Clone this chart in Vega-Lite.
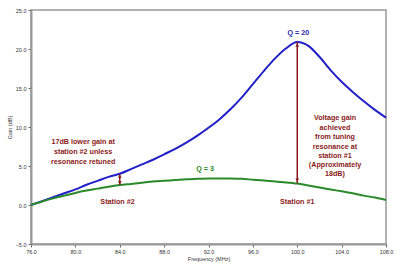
{
  "$schema": "https://vega.github.io/schema/vega-lite/v6.json",
  "width": 355,
  "height": 234,
  "autosize": "none",
  "padding": {"left": 31, "top": 10, "right": 14, "bottom": 25},
  "background": "white",
  "config": {
    "font": "Liberation Sans",
    "view": {"stroke": "#999999", "strokeWidth": 1.5},
    "axis": {
      "grid": false,
      "domainColor": "#999999",
      "domainWidth": 2,
      "tickColor": "#666666",
      "tickSize": 3,
      "labelFontSize": 5.5,
      "labelColor": "#333333",
      "labelFlush": false,
      "labelOverlap": false,
      "titleFontSize": 5.5,
      "titleColor": "#333333",
      "titleFontWeight": "normal"
    },
    "axisY": {"labelOverlap": false},
    "axisQuantitative": {"labelOverlap": false}
  },
  "datasets": {
    "curves": [
      {"f": 76, "g": 0, "s": "Q20"}, {"f": 77, "g": 0.5, "s": "Q20"}, {"f": 78, "g": 1.0, "s": "Q20"},
      {"f": 79, "g": 1.5, "s": "Q20"}, {"f": 80, "g": 2.0, "s": "Q20"}, {"f": 81, "g": 2.6, "s": "Q20"},
      {"f": 82, "g": 3.1, "s": "Q20"}, {"f": 83, "g": 3.6, "s": "Q20"}, {"f": 84, "g": 4.0, "s": "Q20"},
      {"f": 85, "g": 4.6, "s": "Q20"}, {"f": 86, "g": 5.2, "s": "Q20"}, {"f": 87, "g": 5.8, "s": "Q20"},
      {"f": 88, "g": 6.5, "s": "Q20"}, {"f": 89, "g": 7.2, "s": "Q20"}, {"f": 90, "g": 8.0, "s": "Q20"},
      {"f": 91, "g": 8.9, "s": "Q20"}, {"f": 92, "g": 9.9, "s": "Q20"}, {"f": 93, "g": 11.0, "s": "Q20"},
      {"f": 94, "g": 12.3, "s": "Q20"}, {"f": 95, "g": 13.8, "s": "Q20"}, {"f": 96, "g": 15.5, "s": "Q20"},
      {"f": 97, "g": 17.2, "s": "Q20"}, {"f": 98, "g": 18.8, "s": "Q20"}, {"f": 99, "g": 20.1, "s": "Q20"},
      {"f": 100, "g": 20.9, "s": "Q20"}, {"f": 101, "g": 20.4, "s": "Q20"}, {"f": 102, "g": 19.0, "s": "Q20"},
      {"f": 103, "g": 17.3, "s": "Q20"}, {"f": 104, "g": 15.8, "s": "Q20"}, {"f": 105, "g": 14.5, "s": "Q20"},
      {"f": 106, "g": 13.3, "s": "Q20"}, {"f": 107, "g": 12.2, "s": "Q20"}, {"f": 108, "g": 11.2, "s": "Q20"},
      {"f": 76, "g": 0, "s": "Q3"}, {"f": 77, "g": 0.45, "s": "Q3"}, {"f": 78, "g": 0.85, "s": "Q3"},
      {"f": 79, "g": 1.2, "s": "Q3"}, {"f": 80, "g": 1.55, "s": "Q3"}, {"f": 81, "g": 1.85, "s": "Q3"},
      {"f": 82, "g": 2.1, "s": "Q3"}, {"f": 83, "g": 2.35, "s": "Q3"}, {"f": 84, "g": 2.55, "s": "Q3"},
      {"f": 85, "g": 2.7, "s": "Q3"}, {"f": 86, "g": 2.85, "s": "Q3"}, {"f": 87, "g": 3.0, "s": "Q3"},
      {"f": 88, "g": 3.1, "s": "Q3"}, {"f": 89, "g": 3.2, "s": "Q3"}, {"f": 90, "g": 3.3, "s": "Q3"},
      {"f": 91, "g": 3.35, "s": "Q3"}, {"f": 92, "g": 3.4, "s": "Q3"}, {"f": 93, "g": 3.4, "s": "Q3"},
      {"f": 94, "g": 3.4, "s": "Q3"}, {"f": 95, "g": 3.35, "s": "Q3"}, {"f": 96, "g": 3.25, "s": "Q3"},
      {"f": 97, "g": 3.15, "s": "Q3"}, {"f": 98, "g": 3.0, "s": "Q3"}, {"f": 99, "g": 2.9, "s": "Q3"},
      {"f": 100, "g": 2.75, "s": "Q3"}, {"f": 101, "g": 2.5, "s": "Q3"}, {"f": 102, "g": 2.25, "s": "Q3"},
      {"f": 103, "g": 2.0, "s": "Q3"}, {"f": 104, "g": 1.75, "s": "Q3"}, {"f": 105, "g": 1.5, "s": "Q3"},
      {"f": 106, "g": 1.2, "s": "Q3"}, {"f": 107, "g": 0.95, "s": "Q3"}, {"f": 108, "g": 0.65, "s": "Q3"}
    ],
    "arrows": [
      {"f": 100, "g": 20.9, "g2": 2.8},
      {"f": 84, "g": 3.95, "g2": 2.6}
    ],
    "heads": [
      {"f": 100, "g": 20.5, "dir": "up"},
      {"f": 100, "g": 3.2, "dir": "down"},
      {"f": 84, "g": 3.7, "dir": "up"},
      {"f": 84, "g": 2.85, "dir": "down"}
    ],
    "labels": [
      {"f": 100.1, "g": 22.05, "t": "Q = 20", "c": "blue"},
      {"f": 91.7, "g": 4.6, "t": "Q = 3", "c": "green"},
      {"f": 80.7, "g": 8.06, "t": "17dB lower gain at", "c": "red"},
      {"f": 80.7, "g": 6.78, "t": "station #2 unless", "c": "red"},
      {"f": 80.7, "g": 5.56, "t": "resonance retuned", "c": "red"},
      {"f": 83.8, "g": 0.36, "t": "Station #2", "c": "red"},
      {"f": 100, "g": 0.36, "t": "Station #1", "c": "red"},
      {"f": 103.4, "g": 11.14, "t": "Voltage gain", "c": "red"},
      {"f": 103.4, "g": 9.9, "t": "achieved", "c": "red"},
      {"f": 103.4, "g": 8.7, "t": "from tuning", "c": "red"},
      {"f": 103.4, "g": 7.5, "t": "resonance at", "c": "red"},
      {"f": 103.4, "g": 6.3, "t": "station #1", "c": "red"},
      {"f": 103.4, "g": 5.1, "t": "(Approximately", "c": "red"},
      {"f": 103.4, "g": 3.95, "t": "18dB)", "c": "red"}
    ]
  },
  "encoding": {
    "x": {
      "field": "f", "type": "quantitative",
      "scale": {"domain": [76, 108], "nice": false, "zero": false},
      "axis": {"values": [76, 80, 84, 88, 92, 96, 100, 104, 108], "format": ".1f", "labelOverlap": false, "title": "Frequency (MHz)", "titlePadding": 2, "labelPadding": 2}
    },
    "y": {
      "field": "g", "type": "quantitative",
      "scale": {"domain": [-5, 25], "nice": false, "zero": false},
      "axis": {"values": [-5, 0, 5, 10, 15, 20, 25], "format": ".1f", "labelOverlap": false, "title": "Gain (dB)", "titlePadding": 3, "labelPadding": 2}
    }
  },
  "layer": [
    {
      "data": {"name": "curves"},
      "mark": {"type": "line", "strokeWidth": 2, "interpolate": "monotone"},
      "encoding": {
        "color": {
          "field": "s", "type": "nominal",
          "scale": {"domain": ["Q20", "Q3"], "range": ["#2020c8", "#2a8a2a"]},
          "legend": null
        }
      }
    },
    {
      "data": {"name": "arrows"},
      "mark": {"type": "rule", "color": "#8b1a1a", "strokeWidth": 1.5},
      "encoding": {
        "y2": {"field": "g2"}
      }
    },
    {
      "data": {"name": "heads"},
      "mark": {"type": "point", "filled": true, "size": 14, "color": "#8b1a1a", "opacity": 1},
      "encoding": {
        "shape": {
          "field": "dir", "type": "nominal",
          "scale": {"domain": ["up", "down"], "range": ["triangle-up", "triangle-down"]},
          "legend": null
        }
      }
    },
    {
      "data": {"name": "labels"},
      "mark": {"type": "text", "fontWeight": "bold", "fontSize": 7.2, "align": "center", "baseline": "middle"},
      "encoding": {
        "text": {"field": "t"},
        "color": {
          "field": "c", "type": "nominal",
          "scale": {"domain": ["blue", "green", "red"], "range": ["#2a2aa8", "#2a8a2a", "#8b1a1a"]},
          "legend": null
        }
      }
    }
  ],
  "resolve": {"scale": {"color": "independent"}}
}
